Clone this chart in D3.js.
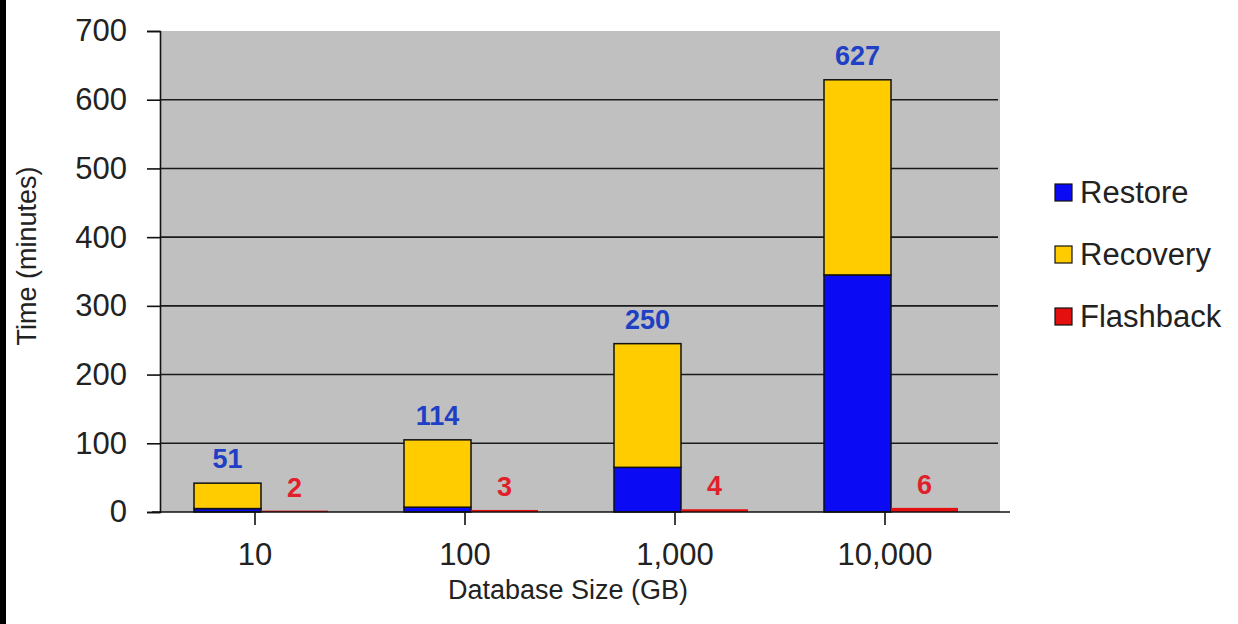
<!DOCTYPE html>
<html>
<head>
<meta charset="utf-8">
<script src="https://cdn.jsdelivr.net/npm/d3@7"></script>
<style>
  body { margin: 0; background: #fff; }
  text { font-family: "Liberation Sans", Arial, sans-serif; }
</style>
</head>
<body>
<svg id="chart" width="1238" height="624"></svg>
<script>
// ! DATA
const categories = ["10", "100", "1,000", "10,000"];
const restore = [5, 7, 65, 345];
const recovery = [37, 98, 180, 284];
const flashback = [2, 3, 4, 6];
const totalLabels = ["51", "114", "250", "627"];
const flashLabels = ["2", "3", "4", "6"];
const yTicks = [0, 100, 200, 300, 400, 500, 600, 700];
const legendItems = ["Restore", "Recovery", "Flashback"];

const colors = { Restore: "#0a0af5", Recovery: "#ffcc00", Flashback: "#e41010" };

const svg = d3.select("#chart");
const plot = { left: 160, right: 1000, top: 31, bottom: 512 };

// black strip on the left border of the picture
svg.append("rect").attr("x", 0).attr("y", 0).attr("width", 6).attr("height", 624).attr("fill", "#000");

// ! SCALES
const x0 = d3.scaleBand().domain(categories).range([plot.left, plot.right]).padding(0);
const x1 = d3.scaleBand().domain(["stack", "flash"]).range([34, 168]).padding(0);
const y = d3.scaleLinear().domain([0, 700]).range([plot.bottom, plot.top]);

// ! PLOT AREA + GRID
svg.append("rect")
  .attr("x", plot.left).attr("y", y(700))
  .attr("width", plot.right - plot.left).attr("height", y(0) - y(700))
  .attr("fill", "#c0c0c0");

svg.append("g").selectAll("line").data(yTicks.filter(d => d > 0 && d < 700)).join("line")
  .attr("x1", plot.left).attr("x2", plot.right - 2)
  .attr("y1", d => y(d)).attr("y2", d => y(d))
  .attr("stroke", "#1a1a1a").attr("stroke-width", 1.6);

// ! Y AXIS
const yAxis = svg.append("g").attr("transform", `translate(${plot.left},0)`)
  .call(d3.axisLeft(y).tickValues(yTicks).tickSize(13).tickPadding(20));
yAxis.select(".domain").attr("stroke", "#111").attr("stroke-width", 1.6);
yAxis.selectAll(".tick line").attr("stroke", "#111").attr("stroke-width", 1.6);
yAxis.selectAll(".tick text")
  .attr("font-size", 31).attr("fill", "#222")
  .attr("font-family", "Liberation Sans, Arial, sans-serif");

svg.append("text")
  .attr("transform", `translate(36,256) rotate(-90)`)
  .attr("text-anchor", "middle")
  .attr("font-size", 27).attr("fill", "#222")
  .text("Time (minutes)");

// ! BARS
const rows = categories.map((c, i) => ({
  cat: c, restore: restore[i], recovery: recovery[i], flash: flashback[i],
  total: totalLabels[i], flashLabel: flashLabels[i]
}));

const groups = svg.append("g").selectAll("g").data(rows).join("g")
  .attr("transform", d => `translate(${x0(d.cat)},0)`);

groups.append("rect")
  .attr("x", x1("stack")).attr("width", x1.bandwidth())
  .attr("y", d => y(d.restore)).attr("height", d => y(0) - y(d.restore))
  .attr("fill", colors.Restore).attr("stroke", "#111").attr("stroke-width", 1.5);

groups.append("rect")
  .attr("x", x1("stack")).attr("width", x1.bandwidth())
  .attr("y", d => y(d.restore + d.recovery)).attr("height", d => y(d.restore) - y(d.restore + d.recovery))
  .attr("fill", colors.Recovery).attr("stroke", "#111").attr("stroke-width", 1.5);

groups.append("rect")
  .attr("x", x1("flash")).attr("width", x1.bandwidth())
  .attr("y", d => y(d.flash)).attr("height", d => y(0) - y(d.flash))
  .attr("fill", colors.Flashback);

// data labels
groups.append("text")
  .attr("x", x1("stack") + x1.bandwidth() / 2)
  .attr("y", d => y(d.restore + d.recovery) - 15)
  .attr("text-anchor", "middle").attr("font-size", 27).attr("font-weight", "bold")
  .attr("fill", "#1f3fc4")
  .text(d => d.total);

groups.append("text")
  .attr("x", x1("flash") + x1.bandwidth() / 2)
  .attr("y", d => y(d.flash) - 14)
  .attr("text-anchor", "middle").attr("font-size", 27).attr("font-weight", "bold")
  .attr("fill", "#e0202a")
  .text(d => d.flashLabel);

// ! X AXIS
svg.append("line")
  .attr("x1", plot.left - 8).attr("x2", plot.right + 10)
  .attr("y1", y(0)).attr("y2", y(0))
  .attr("stroke", "#111").attr("stroke-width", 1.6);

const tickX = c => x0(c) + x1("flash") - 6;
svg.append("g").selectAll("line").data(categories).join("line")
  .attr("x1", tickX).attr("x2", tickX)
  .attr("y1", y(0)).attr("y2", y(0) + 13)
  .attr("stroke", "#111").attr("stroke-width", 1.6);

svg.append("g").selectAll("text").data(categories).join("text")
  .attr("x", tickX).attr("y", 565)
  .attr("text-anchor", "middle").attr("font-size", 31).attr("fill", "#222")
  .text(d => d);

svg.append("text")
  .attr("x", 568).attr("y", 599)
  .attr("text-anchor", "middle").attr("font-size", 27).attr("fill", "#222")
  .text("Database Size (GB)");

// ! LEGEND
const legend = svg.append("g").selectAll("g").data(legendItems).join("g")
  .attr("transform", (d, i) => `translate(1055,${192 + i * 62})`);

legend.append("rect")
  .attr("x", 0).attr("y", -8).attr("width", 17).attr("height", 17)
  .attr("fill", d => colors[d]).attr("stroke", "#111").attr("stroke-width", 1.2);

legend.append("text")
  .attr("x", 25).attr("y", 11)
  .attr("font-size", 31).attr("fill", "#222")
  .text(d => d);
</script>
</body>
</html>
